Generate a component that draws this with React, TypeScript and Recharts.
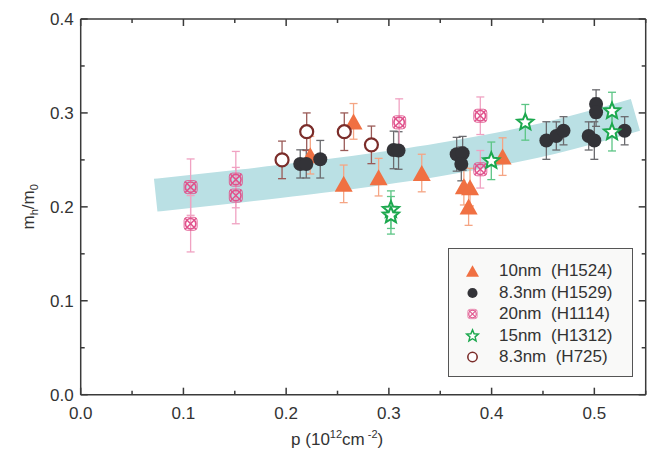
import React from "react";
import {
  ComposedChart,
  Scatter,
  Line,
  XAxis,
  YAxis,
  ErrorBar,
  Legend,
} from "recharts";

// values: [p, m_h/m_0, error]
const h1524: [number, number, number][] = [
  [0.2235, 0.255, 0.02],
  [0.256, 0.2245, 0.02],
  [0.2656, 0.291, 0.019],
  [0.29, 0.2316, 0.02],
  [0.332, 0.236, 0.02],
  [0.373, 0.222, 0.02],
  [0.379, 0.221, 0.02],
  [0.3776, 0.2003, 0.02],
  [0.4107, 0.2535, 0.02],
];
const h1529: [number, number, number][] = [
  [0.2137, 0.2457, 0.015],
  [0.2196, 0.2457, 0.015],
  [0.2332, 0.2507, 0.02],
  [0.3046, 0.2606, 0.02],
  [0.3094, 0.26, 0.02],
  [0.366, 0.256, 0.018],
  [0.3718, 0.257, 0.018],
  [0.3705, 0.2457, 0.018],
  [0.4533, 0.2706, 0.02],
  [0.463, 0.2755, 0.015],
  [0.47, 0.281, 0.015],
  [0.4945, 0.2755, 0.015],
  [0.5, 0.2706, 0.02],
  [0.5017, 0.3096, 0.015],
  [0.5017, 0.3007, 0.015],
  [0.5295, 0.281, 0.015],
];
const h1114: [number, number, number][] = [
  [0.107, 0.221, 0.03],
  [0.107, 0.182, 0.03],
  [0.151, 0.229, 0.03],
  [0.151, 0.212, 0.03],
  [0.31, 0.29, 0.025],
  [0.389, 0.297, 0.02],
  [0.389, 0.24, 0.02],
];
const h1312: [number, number, number][] = [
  [0.302, 0.197, 0.02],
  [0.302, 0.191, 0.02],
  [0.3997, 0.249, 0.02],
  [0.4328, 0.29, 0.019],
  [0.5172, 0.302, 0.02],
  [0.5172, 0.2795, 0.02],
];
const h725: [number, number, number][] = [
  [0.196, 0.25, 0.02],
  [0.22, 0.28, 0.02],
  [0.2566, 0.28, 0.02],
  [0.283, 0.266, 0.02],
];

// guide band
const bandX = [0.073, 0.15, 0.25, 0.35, 0.45, 0.54];
const bandY = [0.2124, 0.2215, 0.2345, 0.2505, 0.2715, 0.298];

const xTicks = [0, 0.05, 0.1, 0.15, 0.2, 0.25, 0.3, 0.35, 0.4, 0.45, 0.5, 0.55];
const yTicks = [0, 0.05, 0.1, 0.15, 0.2, 0.25, 0.3, 0.35, 0.4];

const FONT = "'Liberation Sans', Arial, Helvetica, sans-serif";
const AXIS = "#3a3a3a";

const toRows = (pts: [number, number, number][]) =>
  pts.map(([x, y, err]) => ({ x, y, err }));
const bandData = bandX.map((x, i) => ({ x, y: bandY[i] }));

const isMajor = (v: number) => Math.abs(v * 10 - Math.round(v * 10)) < 1e-6;

// ---- markers ----
function Triangle({ cx, cy, s = 1 }: any) {
  const w = 9 * s;
  return (
    <polygon
      points={`${cx},${cy - 8 * s} ${cx + w},${cy + 8 * s} ${cx - w},${cy + 8 * s}`}
      fill="#f07042"
    />
  );
}
function Dot({ cx, cy, s = 1 }: any) {
  return <circle cx={cx} cy={cy} r={7 * s} fill="#333338" />;
}
function BoxCross({ cx, cy, s = 1 }: any) {
  const h = 6.5 * s;
  return (
    <g stroke="#e0528c" fill="none">
      <rect x={cx - h} y={cy - h} width={2 * h} height={2 * h} rx={3 * s} strokeWidth={0.9 * s} />
      <circle cx={cx} cy={cy} r={h - 1.3 * s} strokeWidth={1.6 * s} />
      <line x1={cx - h + 1} y1={cy - h + 1} x2={cx + h - 1} y2={cy + h - 1} strokeWidth={1.5 * s} />
      <line x1={cx - h + 1} y1={cy + h - 1} x2={cx + h - 1} y2={cy - h + 1} strokeWidth={1.5 * s} />
    </g>
  );
}
function Star({ cx, cy, s = 1 }: any) {
  const pts: string[] = [];
  for (let k = 0; k < 10; k++) {
    const r = (k % 2 === 0 ? 8.5 : 3.8) * s;
    const a = -Math.PI / 2 + (k * Math.PI) / 5;
    pts.push(`${cx + r * Math.cos(a)},${cy + r * Math.sin(a)}`);
  }
  return <polygon points={pts.join(" ")} fill="#fff" stroke="#1ca84e" strokeWidth={2 * s} />;
}
function Ring({ cx, cy, s = 1 }: any) {
  return <circle cx={cx} cy={cy} r={6.5 * s} fill="#fff" stroke="#7b2d2a" strokeWidth={2.2 * s} />;
}

const series = [
  { name: "10nm  (H1524)", data: h1524, Shape: Triangle, err: "#f5a584" },
  { name: "8.3nm (H1529)", data: h1529, Shape: Dot, err: "#6a6a6e" },
  { name: "20nm  (H1114)", data: h1114, Shape: BoxCross, err: "#f0a2c2" },
  { name: "15nm  (H1312)", data: h1312, Shape: Star, err: "#5cc585" },
  { name: "8.3nm  (H725)", data: h725, Shape: Ring, err: "#9a5a57" },
];

// ---- inward ticks ----
function BottomTick({ x, y, payload }: any) {
  const major = isMajor(payload.value);
  return (
    <g>
      <line x1={x} x2={x} y1={y} y2={y - (major ? 7 : 4)} stroke={AXIS} strokeWidth={1.5} />
      {major && (
        <text x={x} y={y + 24} textAnchor="middle" fontSize={17} fill="#333" fontFamily={FONT}>
          {payload.value.toFixed(1)}
        </text>
      )}
    </g>
  );
}
function TopTick({ x, y, payload }: any) {
  const major = isMajor(payload.value);
  return <line x1={x} x2={x} y1={y} y2={y + (major ? 7 : 4)} stroke={AXIS} strokeWidth={1.5} />;
}
function LeftTick({ x, y, payload }: any) {
  const major = isMajor(payload.value);
  return (
    <g>
      <line x1={x} x2={x + (major ? 7 : 4)} y1={y} y2={y} stroke={AXIS} strokeWidth={1.5} />
      {major && (
        <text x={x - 7} y={y + 6} textAnchor="end" fontSize={17} fill="#333" fontFamily={FONT}>
          {payload.value.toFixed(1)}
        </text>
      )}
    </g>
  );
}
function RightTick({ x, y, payload }: any) {
  const major = isMajor(payload.value);
  return <line x1={x} x2={x - (major ? 7 : 4)} y1={y} y2={y} stroke={AXIS} strokeWidth={1.5} />;
}

function XTitle({ viewBox }: any) {
  const cx = viewBox.x + viewBox.width / 2 - 26;
  return (
    <text x={cx} y={viewBox.y + 50} textAnchor="middle" fontSize={17} fill="#333" fontFamily={FONT}>
      p (10
      <tspan dy={-7} fontSize={11}>12</tspan>
      <tspan dy={7}>cm</tspan>
      <tspan dy={-7} fontSize={11}> -2</tspan>
      <tspan dy={7}>)</tspan>
    </text>
  );
}
function YTitle({ viewBox }: any) {
  const x = 26;
  const y = viewBox.y + viewBox.height / 2;
  return (
    <text
      x={x}
      y={y}
      transform={`rotate(-90, ${x}, ${y})`}
      textAnchor="middle"
      fontSize={17}
      fill="#333"
      fontFamily={FONT}
    >
      m
      <tspan dy={4} fontSize={11}>h</tspan>
      <tspan dy={-4}>/m</tspan>
      <tspan dy={4} fontSize={11}>0</tspan>
    </text>
  );
}

function LegendBox() {
  return (
    <div
      style={{
        width: 185,
        height: 129,
        boxSizing: "border-box",
        border: "1.5px solid #555",
        background: "#f9f9f8",
        position: "relative",
        fontFamily: FONT,
        fontSize: 17,
        color: "#333",
      }}
    >
      {series.map((s, i) => (
        <div
          key={s.name}
          style={{ position: "absolute", left: 0, top: 11 + i * 21.6, height: 22, width: 185 }}
        >
          <svg width={40} height={22} style={{ position: "absolute", left: 4, top: 0 }}>
            <s.Shape cx={19.5} cy={11} s={0.72} />
          </svg>
          <span style={{ position: "absolute", left: 50, top: 1, whiteSpace: "pre", lineHeight: "20px" }}>
            {s.name}
          </span>
        </div>
      ))}
    </div>
  );
}

export default function App() {
  return (
    <div style={{ width: 648, height: 448 }}>
      <ComposedChart width={648} height={448} margin={{ top: 10, right: 9.3, bottom: 0, left: 0 }}>
        <XAxis
          type="number"
          dataKey="x"
          domain={[0, 0.55]}
          ticks={xTicks}
          interval={0}
          allowDataOverflow
          height={61.3}
          tickSize={0}
          tickMargin={0}
          tickLine={false}
          tick={<BottomTick />}
          axisLine={{ stroke: AXIS, strokeWidth: 1.5 }}
          label={<XTitle />}
        />
        <XAxis
          xAxisId="top"
          orientation="top"
          type="number"
          dataKey="x"
          domain={[0, 0.55]}
          ticks={xTicks}
          interval={0}
          allowDataOverflow
          height={1}
          tickSize={0}
          tickMargin={0}
          tickLine={false}
          tick={<TopTick />}
          axisLine={{ stroke: AXIS, strokeWidth: 1.5 }}
        />
        <YAxis
          type="number"
          domain={[0, 0.4]}
          ticks={yTicks}
          interval={0}
          allowDataOverflow
          width={72.7}
          tickSize={0}
          tickMargin={0}
          tickLine={false}
          tick={<LeftTick />}
          axisLine={{ stroke: AXIS, strokeWidth: 1.5 }}
          label={<YTitle />}
        />
        <YAxis
          yAxisId="right"
          orientation="right"
          type="number"
          domain={[0, 0.4]}
          ticks={yTicks}
          interval={0}
          allowDataOverflow
          width={1}
          tickSize={0}
          tickMargin={0}
          tickLine={false}
          tick={<RightTick />}
          axisLine={{ stroke: AXIS, strokeWidth: 1.5 }}
        />
        {/* the band is bound to the mirror axes so that they get drawn */}
        <Line
          xAxisId="top"
          yAxisId="right"
          data={bandData}
          dataKey="y"
          type="monotone"
          stroke="#bae0e4"
          strokeWidth={33}
          strokeLinecap="butt"
          dot={false}
          activeDot={false}
          legendType="none"
          isAnimationActive={false}
        />
        {series.map((s) => (
          <Scatter
            key={s.name}
            name={s.name}
            data={toRows(s.data)}
            dataKey="y"
            shape={(p: any) => <s.Shape cx={p.cx} cy={p.cy} />}
            isAnimationActive={false}
          >
            <ErrorBar dataKey="err" direction="y" width={4} stroke={s.err} strokeWidth={1.3} />
          </Scatter>
        ))}
        <Legend
          layout="horizontal"
          align="center"
          verticalAlign="middle"
          content={<LegendBox />}
          wrapperStyle={{ left: 440, top: 240, width: 185, height: 129 }}
        />
      </ComposedChart>
    </div>
  );
}
